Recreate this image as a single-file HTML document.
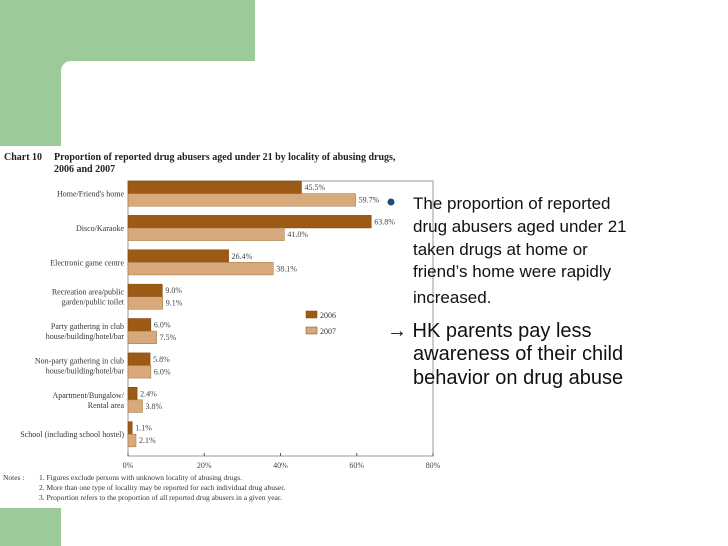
<!DOCTYPE html>
<html><head><meta charset="utf-8"><style>
body{margin:0;width:728px;height:546px;background:#fff;overflow:hidden;position:relative;font-family:"Liberation Sans",sans-serif}
svg{position:absolute;left:0;top:0}
</style></head><body>
<svg width="728" height="546">
<path d="M0 0H255V61H71A10 10 0 0 0 61 71V146H0Z" fill="#9ccb9b"/>
<rect x="0" y="508" width="61" height="38" fill="#9ccb9b"/>
<g font-family="Liberation Serif,serif" fill="#222">
<text x="4" y="160" font-size="10" font-weight="bold">Chart 10</text>
<text x="54" y="160" font-size="10" font-weight="bold">Proportion of reported drug abusers aged under 21 by locality of abusing drugs,</text>
<text x="54" y="172" font-size="10" font-weight="bold">2006 and 2007</text>
</g>
<g id="chart"></g>
<g font-family="Liberation Serif,serif" font-size="7.5" fill="#333">
<text x="3" y="480">Notes :</text>
<text x="39" y="480">1. Figures exclude persons with unknown locality of abusing drugs.</text>
<text x="39" y="490">2. More than one type of locality may be reported for each individual drug abuser.</text>
<text x="39" y="500">3. Proportion refers to the proportion of all reported drug abusers in a given year.</text>
</g>
<circle cx="391" cy="202" r="3.5" fill="#1f4e79"/>
<g font-size="17" fill="#111">
<text x="413" y="209">The proportion of reported</text>
<text x="413" y="232">drug abusers aged under 21</text>
<text x="413" y="255">taken drugs at home or</text>
<text x="413" y="277">friend’s home were rapidly</text>
<text x="413" y="303">increased.</text>
</g>
<g font-size="20" fill="#111">
<text x="387" y="337">→ HK parents pay less</text>
<text x="413" y="360">awareness of their child</text>
<text x="413" y="384">behavior on drug abuse</text>
</g>
</svg>
<script>
const categories=[["Home/Friend's home"],["Disco/Karaoke"],["Electronic game centre"],["Recreation area/public","garden/public toilet"],["Party gathering in club","house/building/hotel/bar"],["Non-party gathering in club","house/building/hotel/bar"],["Apartment/Bungalow/","Rental area"],["School (including school hostel)"]];
const values2006=[45.5,63.8,26.4,9.0,6.0,5.8,2.4,1.1];
const values2007=[59.7,41.0,38.1,9.1,7.5,6.0,3.8,2.1];
const ticks=[0,20,40,60,80];
const NS="http://www.w3.org/2000/svg";
const g=document.getElementById('chart');
const x0=128,x1=433,yTop=181,yBot=456;
const xs=v=>x0+(x1-x0)*v/80;
const band=(yBot-yTop)/categories.length;
function mk(t,a,txt){const e=document.createElementNS(NS,t);for(const k in a)e.setAttribute(k,a[k]);if(txt!=null)e.textContent=txt;g.appendChild(e);return e;}
const frame=mk('path',{d:`M${x0} ${yTop}H${x1}V${yBot}H${x0}Z`,fill:'none',stroke:'#999','stroke-width':1});


const bh=12.6;
categories.forEach((c,i)=>{
 const y=yTop+i*band;
 const b1=mk('rect',{x:x0,y:y,width:xs(values2006[i])-x0,height:bh,fill:'#9c5a15',stroke:'#7a4510','stroke-width':0.5});
 
 
 const b2=mk('rect',{x:x0,y:y+bh,width:xs(values2007[i])-x0,height:bh,fill:'#d8a97a',stroke:'#a07040','stroke-width':0.5});
 
 
 const l1=mk('text',{x:xs(values2006[i])+3,y:y+9,'font-size':8,fill:'#444','font-family':'Liberation Serif,serif'},values2006[i].toFixed(1)+'%');
 
 
 const l2=mk('text',{x:xs(values2007[i])+3,y:y+bh+9,'font-size':8,fill:'#444','font-family':'Liberation Serif,serif'},values2007[i].toFixed(1)+'%');
 
 
 const cy=y+bh+(c.length==1?3:-2);
 c.forEach((ln,j)=>{
  const t=mk('text',{x:124,y:cy+j*10,'font-size':8,'text-anchor':'end',fill:'#333','font-family':'Liberation Serif,serif'},ln);
  
  
 });
});
ticks.forEach(v=>{
 const tk=mk('line',{x1:xs(v),x2:xs(v),y1:yBot-3,y2:yBot,stroke:'#555'});
 
 
 const t=mk('text',{x:xs(v),y:468,'font-size':8,'text-anchor':'middle',fill:'#444','font-family':'Liberation Serif,serif'},v+'%');
 
 
});
[['2006','#9c5a15',311],['2007','#d8a97a',327]].forEach(([n,c,y])=>{
 const r=mk('rect',{x:306,y:y,width:11,height:7,fill:c,stroke:'#7a4510','stroke-width':0.5});
 
 
 const t=mk('text',{x:320,y:y+7,'font-size':8,fill:'#333','font-family':'Liberation Serif,serif'},n);
 
 
});
</script>
</body></html>
